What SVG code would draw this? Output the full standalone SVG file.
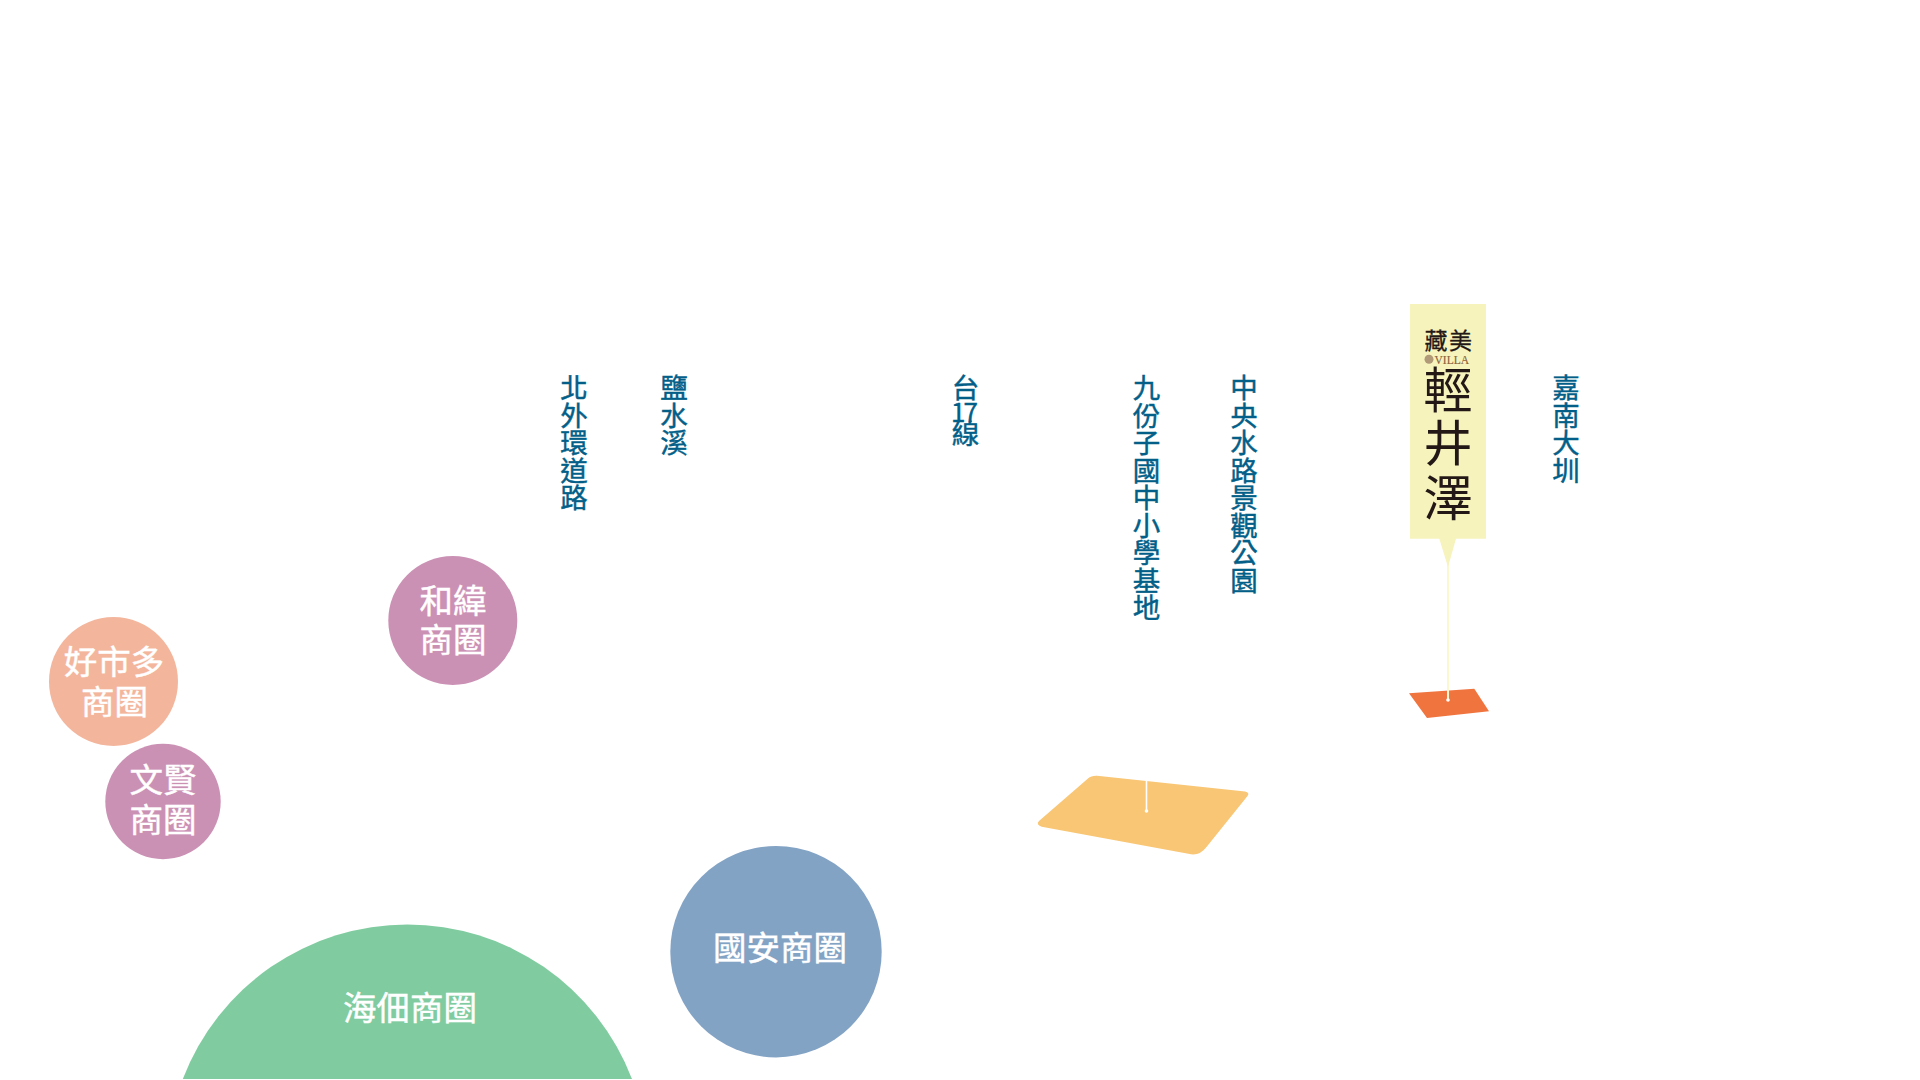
<svg xmlns="http://www.w3.org/2000/svg" width="1920" height="1080" viewBox="0 0 1920 1080">
<style>
text{font-family:"Noto Sans CJK TC","Noto Sans CJK SC",sans-serif}
.road{font-size:27.5px;fill:#035f88;text-anchor:middle;font-weight:400;stroke:#035f88;stroke-width:.45px}
.zone{font-size:33.5px;fill:#fff;text-anchor:middle;font-weight:400;stroke:#fff;stroke-width:.45px}
.logo{fill:#231815;text-anchor:middle}
.pin{stroke:#fbf8d0;stroke-width:2;fill:none}
.pin2{stroke:#fff;stroke-width:1.6;fill:none}
</style>
<rect width="1920" height="1080" fill="#fff"/>
<g id="zone-haidian"><path d="M182.800 1079A240.500 240.500 0 0 1 632 1079Z" fill="#80cca0"/><text class="zone" x="410" y="1020">海佃商圈</text></g>
<g id="zone-guoan"><circle cx="776" cy="951.700" r="105.700" fill="#83a3c5"/><text class="zone" x="780" y="960">國安商圈</text></g>
<g id="zone-costco"><circle cx="113.5" cy="681.5" r="64.5" fill="#f3b69d"/><text class="zone" x="114" y="674">好市多</text><text class="zone" x="114.500" y="714">商圈</text></g>
<g id="zone-wenxian"><circle cx="163" cy="801.500" r="57.700" fill="#cb91b5"/><text class="zone" x="163" y="792">文賢</text><text class="zone" x="163" y="832">商圈</text></g>
<g id="zone-hewei"><circle cx="452.800" cy="620.500" r="64.500" fill="#cb91b5"/><text class="zone" x="453" y="613">和緯</text><text class="zone" x="453" y="652">商圈</text></g>
<g id="road-beiwai"><text class="road" x="574" y="398"><tspan x="574">北</tspan><tspan x="574" dy="27.500">外</tspan><tspan x="574" dy="27.500">環</tspan><tspan x="574" dy="27.500">道</tspan><tspan x="574" dy="27.500">路</tspan></text></g>
<g id="road-yanshui"><text class="road" x="674" y="398"><tspan x="674">鹽</tspan><tspan x="674" dy="27.500">水</tspan><tspan x="674" dy="27.500">溪</tspan></text></g>
<g id="road-t17"><text class="road" x="965.500" y="398"><tspan x="965.500">台</tspan><tspan x="963.500" dy="23.500" style="font-size:26px;letter-spacing:-2px">17</tspan><tspan x="965.500" dy="22.500">線</tspan></text></g>
<g id="road-school"><text class="road" x="1146.500" y="398"><tspan x="1146.500">九</tspan><tspan x="1146.500" dy="27.500">份</tspan><tspan x="1146.500" dy="27.500">子</tspan><tspan x="1146.500" dy="27.500">國</tspan><tspan x="1146.500" dy="27.500">中</tspan><tspan x="1146.500" dy="27.500">小</tspan><tspan x="1146.500" dy="27.500">學</tspan><tspan x="1146.500" dy="27.500">基</tspan><tspan x="1146.500" dy="27.500">地</tspan></text></g>
<g id="road-park"><text class="road" x="1244" y="398"><tspan x="1244">中</tspan><tspan x="1244" dy="27.500">央</tspan><tspan x="1244" dy="27.500">水</tspan><tspan x="1244" dy="27.500">路</tspan><tspan x="1244" dy="27.500">景</tspan><tspan x="1244" dy="27.500">觀</tspan><tspan x="1244" dy="27.500">公</tspan><tspan x="1244" dy="27.500">園</tspan></text></g>
<g id="road-jianan"><text class="road" x="1566" y="398"><tspan x="1566">嘉</tspan><tspan x="1566" dy="27.500">南</tspan><tspan x="1566" dy="27.500">大</tspan><tspan x="1566" dy="27.500">圳</tspan></text></g>
<g id="site-orange"><path d="M1409 693.300L1474.300 688.700L1489 711.300L1427 718Z" fill="#f0743e"/></g>
<g id="site-yellow"><path d="M1088 778.500Q1091 775.500 1097 775.700L1245 791.500Q1250 792.500 1247.500 796L1206.700 846.700Q1200 855.500 1191 854.300L1041.700 826.700Q1035.500 824.500 1039 821Z" fill="#f8c674"/></g>
<g id="connectors"><line class="pin" x1="1448" y1="560" x2="1448" y2="700"/><circle cx="1448" cy="700" r="1.800" fill="#fff"/><line class="pin2" x1="1146.500" y1="781" x2="1146.500" y2="811"/><circle cx="1146.500" cy="811" r="1.800" fill="#fff"/></g>
<g id="marker-karuizawa"><path d="M1410 304H1486V538.700H1456L1448 567L1439.300 538.700H1410Z" fill="#f7f3bd"/>
<text class="logo" x="1449" y="349" font-size="23" letter-spacing="1.500" stroke="#231815" stroke-width=".3">藏美</text>
<circle cx="1429" cy="359.300" r="4.500" fill="#b09a78"/>
<text x="1434.500" y="364" font-size="13" fill="#8c5f3a" textLength="34.500" lengthAdjust="spacingAndGlyphs" stroke="#8c5f3a" stroke-width=".2" style="font-family:'Liberation Serif',serif">VILLA</text>
<text class="logo" x="1448" y="408" font-size="49">輕</text><text class="logo" x="1448" y="461" font-size="49">井</text><text class="logo" x="1448" y="516" font-size="49">澤</text></g>
</svg>
